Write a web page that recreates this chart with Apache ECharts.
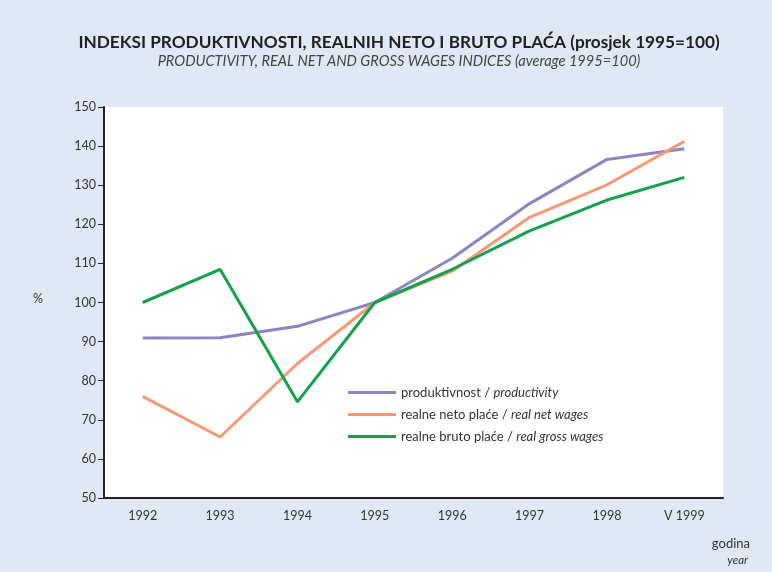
<!DOCTYPE html>
<html>
<head>
<meta charset="utf-8">
<script src="https://cdn.jsdelivr.net/npm/echarts@6/dist/echarts.min.js"></script>
<style>
  html, body { margin: 0; padding: 0; background: #e1e8f5; }
  #chart { width: 772px; height: 572px; }
</style>
</head>
<body>
<div id="chart"></div>
<script>
  const years = ["1992", "1993", "1994", "1995", "1996", "1997", "1998", "V 1999"];
  const productivity = [90.9, 91.0, 93.9, 100, 111.3, 125.3, 136.6, 139.3];
  const netWages = [76.0, 65.6, 84.4, 100, 108.0, 121.8, 130.1, 141.2];
  const grossWages = [100.0, 108.5, 74.6, 100, 108.5, 118.3, 126.2, 132.0];

  const chart = echarts.init(document.getElementById("chart"));
  const font = "Lato, 'Open Sans', sans-serif";

  chart.setOption({
    backgroundColor: "#e1e8f5",
    textStyle: { fontFamily: font },
    title: {
      text: "INDEKSI PRODUKTIVNOSTI, REALNIH NETO I BRUTO PLAĆA (prosjek 1995=100)",
      subtext: "PRODUCTIVITY, REAL NET AND GROSS WAGES INDICES (average 1995=100)",
      left: 394,
      textAlign: "center",
      top: 29,
      itemGap: 3,
      textStyle: { fontSize: 17.2, fontWeight: "bold", color: "#222", fontFamily: font },
      subtextStyle: { fontSize: 14.6, fontStyle: "italic", color: "#444", fontFamily: font },
    },
    grid: { left: 104, right: 49, top: 107, bottom: 74 },
    legend: {
      orient: "vertical",
      left: 343,
      top: 381,
      itemWidth: 48,
      itemHeight: 3,
      itemGap: 9,
      icon: "rect",
      textStyle: {
        fontSize: 13,
        color: "#333",
        rich: { it: { fontStyle: "italic", fontSize: 13, color: "#333" } },
      },
      formatter: (name) => {
        const parts = name.split(" / ");
        return parts[0] + " / {it|" + parts[1] + "}";
      },
    },
    xAxis: {
      type: "category",
      data: years,
      boundaryGap: true,
      axisLine: { lineStyle: { color: "#222", width: 2 } },
      axisTick: { show: false },
      axisLabel: { color: "#333", fontSize: 12.5, margin: 11 },
    },
    yAxis: {
      type: "value",
      min: 50,
      max: 150,
      interval: 10,
      axisLine: { show: true, lineStyle: { color: "#222", width: 2 } },
      axisTick: { show: true, length: 6, lineStyle: { color: "#222", width: 1 } },
      axisLabel: { color: "#333", fontSize: 12.5, margin: 8 },
      splitLine: { show: false },
    },
    graphic: [
      {
        type: "text",
        left: 33,
        top: 292,
        style: { text: "%", fontSize: 12.5, fill: "#333", fontFamily: font },
      },
      {
        type: "text",
        right: 22,
        top: 537,
        style: { text: "godina", fontSize: 13, fill: "#333", fontFamily: font },
      },
      {
        type: "text",
        right: 24,
        top: 554,
        style: { text: "year", fontSize: 11.5, fontStyle: "italic", fill: "#333", fontFamily: font },
      },
      {
        type: "rect",
        z: -1,
        shape: { x: 104, y: 107, width: 619, height: 391 },
        style: { fill: "#ffffff" },
      },
    ],
    series: [
      {
        name: "produktivnost / productivity",
        type: "line",
        data: productivity,
        symbol: "none",
        color: "#8d84c4",
        lineStyle: { width: 3 },
      },
      {
        name: "realne neto plaće / real net wages",
        type: "line",
        data: netWages,
        symbol: "none",
        color: "#f79877",
        lineStyle: { width: 3 },
      },
      {
        name: "realne bruto plaće / real gross wages",
        type: "line",
        data: grossWages,
        symbol: "none",
        color: "#13a24a",
        lineStyle: { width: 3 },
      },
    ],
  });
</script>
</body>
</html>
